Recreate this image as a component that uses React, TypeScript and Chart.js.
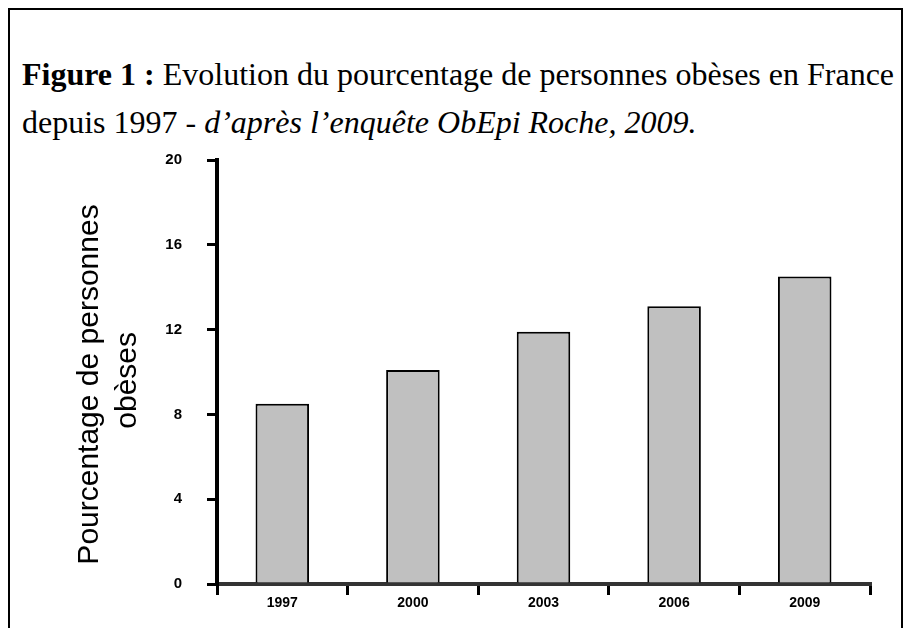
import React, { useEffect, useRef } from "react";
import { Chart, registerables } from "chart.js";

Chart.register(...registerables);

const years: string[] = ["1997", "2000", "2003", "2006", "2009"];
const obesityPct: number[] = [8.5, 10.1, 11.9, 13.1, 14.5];
const yTicks: number[] = [0, 4, 8, 12, 16, 20];
const yTitle: string[] = ["Pourcentage de personnes   ", "obèses  "];

export default function App() {
  const canvasRef = useRef<HTMLCanvasElement | null>(null);

  useEffect(() => {
    if (!canvasRef.current) return;
    const chart = new Chart(canvasRef.current, {
      type: "bar",
      data: {
        labels: years,
        datasets: [
          {
            data: obesityPct,
            backgroundColor: "#c0c0c0",
            borderColor: "#000000",
            borderWidth: 2,
            categoryPercentage: 1,
            barPercentage: 0.41,
          },
        ],
      },
      options: {
        animation: false,
        responsive: false,
        maintainAspectRatio: false,
        layout: { padding: { left: 0, top: 160, right: 38, bottom: 0 } },
        plugins: {
          legend: { display: false },
          tooltip: { enabled: false },
          title: { display: false },
        },
        scales: {
          x: {
            offset: true,
            grid: {
              offset: true,
              drawOnChartArea: false,
              drawTicks: true,
              tickLength: 11,
              color: "#000000",
              lineWidth: 3,
            },
            border: { display: true, color: "#333333", width: 4 },
            ticks: {
              color: "#000000",
              padding: 0,
              font: { family: "Arial, 'Liberation Sans'", size: 14, weight: "bold" },
              maxRotation: 0,
            },
            afterFit: (scale: any) => {
              scale.height = 44;
            },
          },
          y: {
            min: 0,
            max: 20,
            afterBuildTicks: (scale: any) => {
              scale.ticks = yTicks.map((v) => ({ value: v }));
            },
            grid: {
              drawOnChartArea: false,
              drawTicks: true,
              tickLength: 10,
              color: "#000000",
              lineWidth: 3,
            },
            border: { display: true, color: "#000000", width: 4 },
            ticks: {
              color: "#000000",
              padding: 25,
              font: { family: "Arial, 'Liberation Sans'", size: 15, weight: "bold" },
            },
            title: {
              display: true,
              text: yTitle,
              color: "#000000",
              font: { family: "Arial, 'Liberation Sans'", size: 30, lineHeight: 1.27 },
              padding: { top: 71, bottom: 0 },
            },
            afterFit: (scale: any) => {
              scale.width = 217;
            },
          },
        },
      },
    });
    return () => chart.destroy();
  }, []);

  return (
    <div
      style={{
        position: "fixed",
        left: 0,
        top: 0,
        width: 908,
        height: 628,
        overflow: "hidden",
        background: "#ffffff",
      }}
    >
      <div
        style={{
          position: "absolute",
          left: 8,
          top: 8,
          width: 895,
          height: 700,
          border: "2px solid #000000",
          boxSizing: "border-box",
        }}
      />
      <div
        style={{
          position: "absolute",
          left: 22,
          top: 50,
          width: 880,
          fontFamily: "'Liberation Serif', 'Times New Roman', serif",
          fontSize: 32,
          lineHeight: "48px",
          color: "#000000",
          whiteSpace: "nowrap",
        }}
      >
        <div>
          <b>Figure 1 :</b> Evolution du pourcentage de personnes obèses en France
        </div>
        <div>
          depuis 1997 - <i>d’après l’enquête ObEpi Roche, 2009.</i>
        </div>
      </div>
      <canvas
        ref={canvasRef}
        width={908}
        height={628}
        style={{ position: "absolute", left: 0, top: 0, width: 908, height: 628 }}
      />
    </div>
  );
}
